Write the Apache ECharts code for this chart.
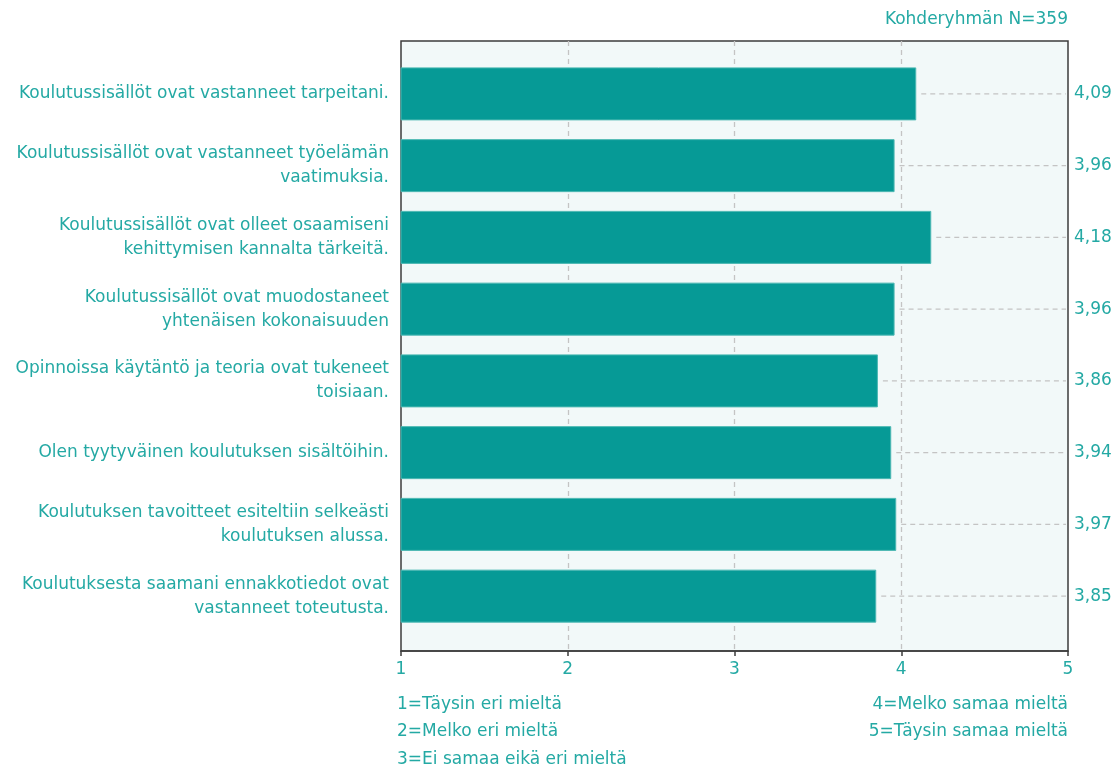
<!DOCTYPE html>
<html>
<head>
<meta charset="utf-8">
<script src="https://cdn.jsdelivr.net/npm/echarts@6/dist/echarts.min.js"></script>
<style>
html,body{margin:0;padding:0;background:#fff;}
#c{width:1116px;height:771px;}
</style>
</head>
<body>
<div id="c"></div>
<script>
const categories = [
  "Koulutussisällöt ovat vastanneet tarpeitani.",
  "Koulutussisällöt ovat vastanneet työelämän\nvaatimuksia.",
  "Koulutussisällöt ovat olleet osaamiseni\nkehittymisen kannalta tärkeitä.",
  "Koulutussisällöt ovat muodostaneet\nyhtenäisen kokonaisuuden",
  "Opinnoissa käytäntö ja teoria ovat tukeneet\ntoisiaan.",
  "Olen tyytyväinen koulutuksen sisältöihin.",
  "Koulutuksen tavoitteet esiteltiin selkeästi\nkoulutuksen alussa.",
  "Koulutuksesta saamani ennakkotiedot ovat\nvastanneet toteutusta."
];
const values = [4.09, 3.96, 4.18, 3.96, 3.86, 3.94, 3.97, 3.85];
const valueLabels = ["4,09", "3,96", "4,18", "3,96", "3,86", "3,94", "3,97", "3,85"];
const scaleTicks = ["1", "2", "3", "4", "5"];
const legendLeft = ["1=Täysin eri mieltä", "2=Melko eri mieltä", "3=Ei samaa eikä eri mieltä"];
const legendRight = ["4=Melko samaa mieltä", "5=Täysin samaa mieltä"];
const titleText = "Kohderyhmän N=359";

const TEAL_TEXT = '#24a9a4';
const FONT = 'DejaVu Sans';
const FS = 17;
const xMin = 1, xMax = 5;

const chart = echarts.init(document.getElementById('c'), null, {renderer: 'canvas'});

const graphics = [];
graphics.push({type: 'text', right: 48, top: 11, style: {text: titleText, fill: TEAL_TEXT, font: FS + 'px "' + FONT + '"', textAlign: 'right'}});
legendLeft.forEach((t, i) => {
  graphics.push({type: 'text', left: 397, top: 696 + i * 27.5, style: {text: t, fill: TEAL_TEXT, font: FS + 'px "' + FONT + '"'}});
});
legendRight.forEach((t, i) => {
  graphics.push({type: 'text', right: 48, top: 696 + i * 27.5, style: {text: t, fill: TEAL_TEXT, font: FS + 'px "' + FONT + '"', textAlign: 'right'}});
});

const option = {
  animation: false,
  backgroundColor: '#ffffff',
  textStyle: {fontFamily: FONT},
  graphic: graphics,
  grid: [
    {left: 401, right: 48, top: 41, bottom: 120, show: true, backgroundColor: '#f2f9f9', borderColor: '#3c3c3c', borderWidth: 1.5, containLabel: false},
    {left: 401, right: 48, top: 58, bottom: 139, show: false, containLabel: false}
  ],
  xAxis: [
    {
      type: 'value', gridIndex: 0, min: xMin, max: xMax, interval: 1,
      axisLine: {show: true, lineStyle: {color: '#3c3c3c', width: 1.5}},
      axisTick: {show: true, length: 5, lineStyle: {color: '#3c3c3c', width: 1.5}},
      axisLabel: {color: TEAL_TEXT, fontSize: FS, fontFamily: FONT, margin: 10, formatter: (v) => scaleTicks[Math.round(v) - xMin]},
      splitLine: {show: true, showMinLine: false, showMaxLine: false, lineStyle: {color: '#c4c4c4', type: [5, 4], width: 1.3}}
    },
    {
      type: 'value', gridIndex: 1, min: xMin, max: xMax, interval: 1, show: false
    }
  ],
  yAxis: [
    {type: 'value', gridIndex: 0, show: false},
    {
      type: 'category', gridIndex: 1, data: categories, inverse: true,
      axisLine: {show: false}, axisTick: {show: false}, splitLine: {show: false},
      axisLabel: {color: TEAL_TEXT, fontSize: FS, fontFamily: FONT, margin: 12, lineHeight: 24, align: 'right', interval: 0}
    },
    {
      type: 'category', gridIndex: 1, data: valueLabels, inverse: true, position: 'right',
      axisLine: {show: false}, axisTick: {show: false}, splitLine: {show: false},
      axisLabel: {color: TEAL_TEXT, fontSize: FS, fontFamily: FONT, margin: 6, interval: 0}
    }
  ],
  series: [
    {
      type: 'custom', xAxisIndex: 1, yAxisIndex: 1,
      data: values.map((v, i) => [v, i]),
      encode: {x: 0, y: 1},
      silent: true,
      renderItem: function (params, api) {
        const v = api.value(0), c = api.value(1);
        const s = api.coord([v, c]);
        const e = api.coord([xMax, c]);
        return {
          type: 'line',
          shape: {x1: s[0] + 5, y1: s[1], x2: e[0] - 2, y2: e[1]},
          style: {stroke: '#c4c4c4', lineWidth: 1.3, lineDash: [5, 4]}
        };
      },
      z: 1
    },
    {
      type: 'bar', xAxisIndex: 1, yAxisIndex: 1,
      data: values,
      barWidth: 53,
      itemStyle: {color: '#069a96', borderColor: '#4cb8b3', borderWidth: 1},
      z: 3
    }
  ]
};
chart.setOption(option);
</script>
</body>
</html>
